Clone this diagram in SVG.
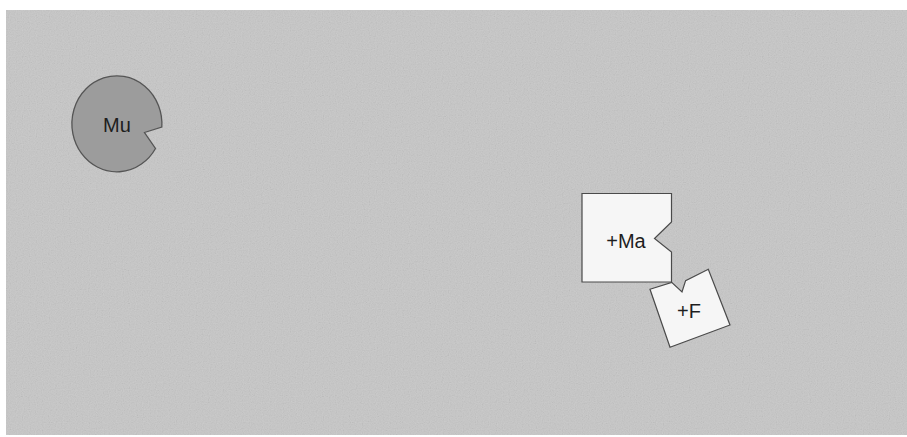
<svg xmlns="http://www.w3.org/2000/svg" width="907" height="437" viewBox="0 0 907 437">
  <style>
    .lbl { font-family: "Liberation Sans", Arial, sans-serif; font-size: 20px; fill: #1e1e1e; text-anchor: middle; dominant-baseline: central; }
    .piece { fill: #f6f6f6; stroke: #4a4a4a; stroke-width: 1.2; stroke-linejoin: miter; }
    .disc { fill: #9c9c9c; stroke: #555555; stroke-width: 1.3; }
  </style>
  <defs>
    <filter id="grain" x="0" y="0" width="100%" height="100%">
      <feTurbulence type="fractalNoise" baseFrequency="0.85" numOctaves="1" seed="7"/>
      <feColorMatrix type="saturate" values="0"/>
    </filter>
  </defs>
  <rect x="0" y="0" width="907" height="437" fill="#ffffff"/>
  <rect x="6" y="10" width="901" height="425" fill="#c7c7c7"/>
  <rect x="6" y="10" width="901" height="425" filter="url(#grain)" opacity="0.28"/>

  <g id="node-mu">
    <path class="disc" d="M 161.8 127 A 45 48 0 1 0 155.5 148.5 L 144.5 132.5 Z"/>
    <text class="lbl" x="117" y="125">Mu</text>
  </g>

  <g id="node-ma">
    <path class="piece" d="M 582 193.5 L 671.5 193.5 L 671.5 222 L 654.5 238.5 L 671.5 252 L 671.5 282 L 582 282 Z"/>
    <text class="lbl" x="626" y="241">+Ma</text>
  </g>

  <g id="node-f">
    <path class="piece" d="M 650 289.3 L 671.7 282.4 L 682 292 L 685.6 280.6 L 708.3 269.3 L 730 325 L 670 347.3 Z"/>
    <text class="lbl" x="689" y="311">+F</text>
  </g>

  <g id="connectors"></g>
</svg>
